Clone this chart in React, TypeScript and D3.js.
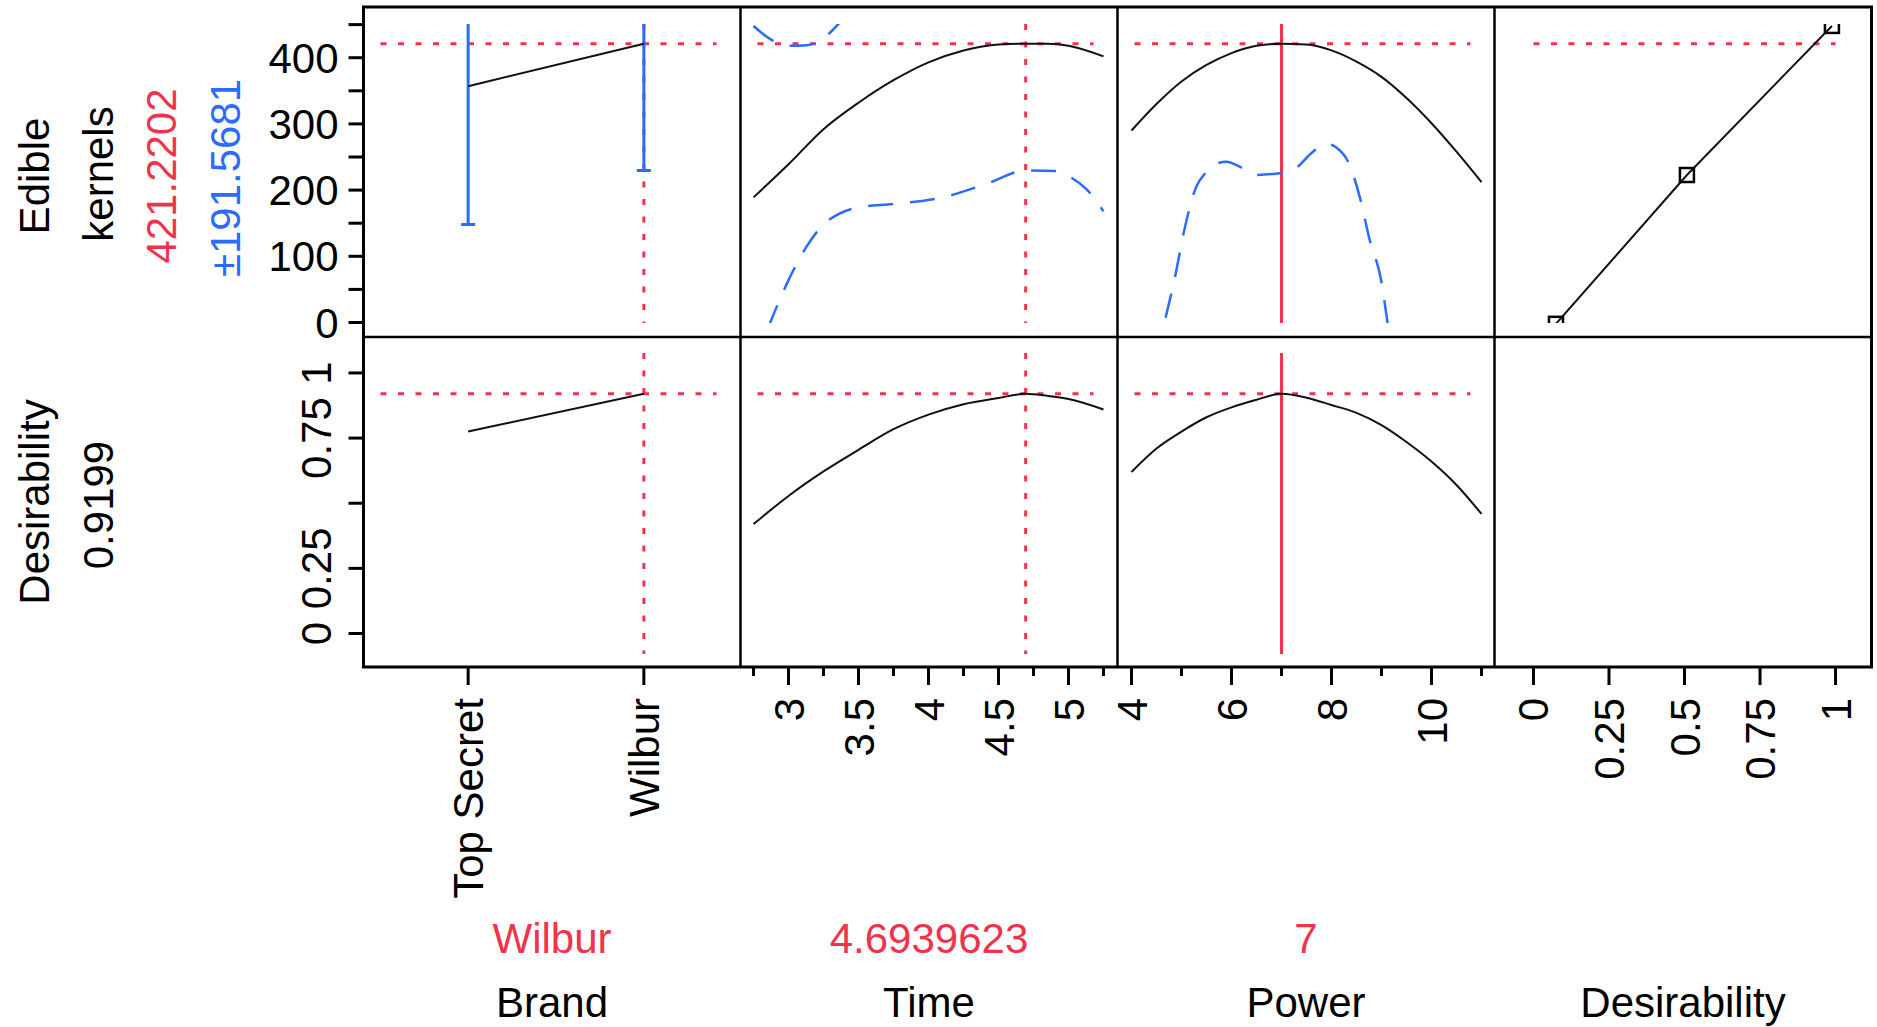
import React from "react";
import * as d3 from "d3";

const brandLevels = ["Top Secret", "Wilbur"];
const brandEdible = [357, 421.2202];
const brandHalfWidth = [209, 191.5681];
const brandDesir = [0.775, 0.9199];

const timeX = [2.75, 3.0, 3.25, 3.5, 3.75, 4.0, 4.25, 4.5, 4.694, 4.85, 5.0, 5.25];
const timeEdible = [189, 239, 292, 332, 366, 393, 411, 420, 421.2, 421, 418, 402];
const timeDesir = [0.42, 0.528, 0.622, 0.705, 0.784, 0.84, 0.88, 0.904, 0.9199, 0.912, 0.9, 0.86];
const timeBandX = [2.75, 2.87, 3.0, 3.13, 3.24, 3.36, 3.5, 3.75, 4.08, 4.41, 4.694, 4.91, 5.01, 5.13, 5.25];
const timeLower = [-69, 0, 64, 115, 146, 164, 174, 179, 188, 209, 229.6, 229, 220, 201, 168];
const timeUpper = [448, 428, 418, 419, 428, 452, 490, 553, 610, 628, 613, 613, 616, 625, 636];

const powerX = [4, 4.5, 5, 5.5, 6, 6.5, 7, 7.5, 8, 8.5, 9, 9.5, 10, 10.5, 11];
const powerEdible = [290, 330, 364, 389, 407, 418, 421.2, 420, 411, 394, 371, 339, 301, 258, 212];
const powerDesir = [0.62, 0.71, 0.775, 0.83, 0.868, 0.897, 0.9199, 0.905, 0.877, 0.847, 0.8, 0.735, 0.66, 0.57, 0.459];
const powerBandX = [4.5, 4.66, 4.86, 5.06, 5.3, 5.46, 5.7, 5.9, 6.2, 6.5, 7.0, 7.3, 7.6, 7.9, 8.1, 8.35, 8.56, 8.76, 9.0, 9.12, 9.3];
const powerLower = [-55, 0, 65, 141, 206, 224, 240, 243, 234, 223, 226, 234, 256, 270, 264, 240, 191, 126, 61, 0, -90];

// desirability function handles (desirability, edible kernels)
const handleDesir = [0.0745, 0.508, 0.988];
const handleEdible = [-2, 222.8, 448];

const currentBrand = "Wilbur";
const currentTime = 4.6939623;
const currentPower = 7;
const currentEdible = 421.2202;
const currentHalfWidth = 191.5681;
const currentDesir = 0.9199;

const edibleMajor = [0, 100, 200, 300, 400];
const edibleMinor = [50, 150, 250, 350, 450];
const desirTicks = [0, 0.25, 0.5, 0.75, 1];
const desirYLabels = ["0", "0.25", "", "0.75", "1"];
const desirXLabels = ["0", "0.25", "0.5", "0.75", "1"];
const timeMajor = [3, 3.5, 4, 4.5, 5];
const timeMinor = [2.75, 3.25, 3.75, 4.25, 4.75, 5.25];
const powerMajor = [4, 6, 8, 10];
const powerMinor = [5, 7, 9, 11];

const factorNames = ["Brand", "Time", "Power", "Desirability"];
const currentLabels = [currentBrand, String(currentTime), String(currentPower)];

const RED = "#f0334a";
const BLUE = "#2b6bff";
const FONT = "'Liberation Sans', Arial, sans-serif";

const L = 363.5;
const PW = 377;
const T = 7;
const PH = 330;
const colX = (i: number) => L + i * PW;

const App = () => {
  const xBrand = d3.scalePoint<string>().domain(brandLevels).range([colX(0) + 8, colX(1)]).padding(0.55);
  const xTime = d3.scaleLinear().domain([2.657, 5.35]).range([colX(1), colX(2)]);
  const xPower = d3.scaleLinear().domain([3.72, 11.26]).range([colX(2), colX(3)]);
  const xDes = d3.scaleLinear().domain([-0.129, 1.119]).range([colX(3), colX(4)]);
  const yEd = d3.scaleLinear().domain([-21.9, 476.6]).range([T + PH, T]);
  const yDe = d3.scaleLinear().domain([-0.1286, 1.138]).range([T + 2 * PH, T + PH]);

  const path = (xs: number[], ys: number[], sx: (v: number) => number, sy: (v: number) => number) =>
    d3
      .line<number>()
      .x((_, i) => sx(xs[i]))
      .y((d) => sy(d))
      .curve(d3.curveMonotoneX)(ys) || "";

  const clipTop = { y: T + 17, h: PH - 31 };
  const clipBot = { y: T + PH + 16, h: PH - 29 };
  const hInset = [17, 24];

  const dotted = { stroke: RED, strokeWidth: 3, strokeDasharray: "6 11.5", fill: "none" };
  const dashed = { stroke: BLUE, strokeWidth: 2.5, strokeDasharray: "25 17", fill: "none" };
  const curve = { stroke: "#111", strokeWidth: 2, fill: "none" };

  const wilburX = xBrand(currentBrand) as number;
  const bottom = T + 2 * PH;

  const xTicks: { x: number; major: boolean; label: string }[] = [
    ...brandLevels.map((b) => ({ x: xBrand(b) as number, major: true, label: b })),
    ...timeMajor.map((t) => ({ x: xTime(t), major: true, label: String(t) })),
    ...timeMinor.map((t) => ({ x: xTime(t), major: false, label: "" })),
    ...powerMajor.map((p) => ({ x: xPower(p), major: true, label: String(p) })),
    ...powerMinor.map((p) => ({ x: xPower(p), major: false, label: "" })),
    ...desirTicks.map((d, i) => ({ x: xDes(d), major: true, label: desirXLabels[i] })),
  ];

  return (
    <svg
      width={1877}
      height={1027}
      style={{ position: "absolute", left: 0, top: 0, background: "#fff" }}
      fontFamily={FONT}
    >
      <defs>
        <clipPath id="clipTop">
          <rect x={L} y={clipTop.y} width={4 * PW} height={clipTop.h} />
        </clipPath>
        <clipPath id="clipBot">
          <rect x={L} y={clipBot.y} width={4 * PW} height={clipBot.h} />
        </clipPath>
      </defs>

      {/* top row: Edible kernels */}
      <g clipPath="url(#clipTop)">
        {[0, 1, 2].map((i) => (
          <line
            key={i}
            x1={colX(i) + hInset[0]}
            x2={colX(i + 1) - hInset[1]}
            y1={yEd(currentEdible)}
            y2={yEd(currentEdible)}
            {...dotted}
          />
        ))}
        <line x1={xDes(0)} x2={xDes(1)} y1={yEd(currentEdible)} y2={yEd(currentEdible)} {...dotted} />
        <line x1={wilburX} x2={wilburX} y1={clipTop.y} y2={clipTop.y + clipTop.h} {...dotted} />
        <line x1={xTime(currentTime)} x2={xTime(currentTime)} y1={clipTop.y} y2={clipTop.y + clipTop.h} {...dotted} />
        <line
          x1={xPower(currentPower)}
          x2={xPower(currentPower)}
          y1={clipTop.y}
          y2={clipTop.y + clipTop.h}
          stroke={RED}
          strokeWidth={3}
        />

        {/* brand */}
        {brandLevels.map((b, i) => {
          const x = xBrand(b) as number;
          const lo = yEd(brandEdible[i] - brandHalfWidth[i]);
          const hi = yEd(brandEdible[i] + brandHalfWidth[i]);
          return (
            <g key={b} stroke={BLUE} strokeWidth={3}>
              <line x1={x} x2={x} y1={hi} y2={lo} />
              <line x1={x - 7} x2={x + 7} y1={lo} y2={lo} />
              <line x1={x - 7} x2={x + 7} y1={hi} y2={hi} />
            </g>
          );
        })}
        <line
          x1={xBrand(brandLevels[0])}
          x2={xBrand(brandLevels[1])}
          y1={yEd(brandEdible[0])}
          y2={yEd(brandEdible[1])}
          {...curve}
        />

        {/* time */}
        <path d={path(timeBandX, timeLower, xTime, yEd)} {...dashed} />
        <path d={path(timeBandX, timeUpper, xTime, yEd)} {...dashed} />
        <path d={path(timeX, timeEdible, xTime, yEd)} {...curve} />

        {/* power */}
        <path d={path(powerBandX, powerLower, xPower, yEd)} {...dashed} />
        <path d={path(powerX, powerEdible, xPower, yEd)} {...curve} />

        {/* desirability function */}
        <path
          d={d3.line<number>().x((_, i) => xDes(handleDesir[i])).y((d) => yEd(d))(handleEdible) || ""}
          {...curve}
        />
        {handleDesir.map((d, i) => (
          <rect
            key={i}
            x={xDes(d) - 7}
            y={yEd(handleEdible[i]) - 7}
            width={14}
            height={14}
            fill="none"
            stroke="#000"
            strokeWidth={2.5}
          />
        ))}
      </g>

      {/* bottom row: Desirability */}
      <g clipPath="url(#clipBot)">
        {[0, 1, 2].map((i) => (
          <line
            key={i}
            x1={colX(i) + hInset[0]}
            x2={colX(i + 1) - hInset[1]}
            y1={yDe(currentDesir)}
            y2={yDe(currentDesir)}
            {...dotted}
          />
        ))}
        <line x1={wilburX} x2={wilburX} y1={clipBot.y} y2={clipBot.y + clipBot.h} {...dotted} />
        <line x1={xTime(currentTime)} x2={xTime(currentTime)} y1={clipBot.y} y2={clipBot.y + clipBot.h} {...dotted} />
        <line
          x1={xPower(currentPower)}
          x2={xPower(currentPower)}
          y1={clipBot.y}
          y2={clipBot.y + clipBot.h}
          stroke={RED}
          strokeWidth={3}
        />
        <line
          x1={xBrand(brandLevels[0])}
          x2={xBrand(brandLevels[1])}
          y1={yDe(brandDesir[0])}
          y2={yDe(brandDesir[1])}
          {...curve}
        />
        <path d={path(timeX, timeDesir, xTime, yDe)} {...curve} />
        <path d={path(powerX, powerDesir, xPower, yDe)} {...curve} />
      </g>

      {/* frame */}
      <rect x={L} y={T} width={4 * PW} height={2 * PH} fill="none" stroke="#000" strokeWidth={3} />
      <line x1={L} x2={colX(4)} y1={T + PH} y2={T + PH} stroke="#000" strokeWidth={2.5} />
      {[1, 2, 3].map((i) => (
        <line key={i} x1={colX(i)} x2={colX(i)} y1={T} y2={bottom} stroke="#000" strokeWidth={2.5} />
      ))}

      {/* y axis, top */}
      {[...edibleMajor, ...edibleMinor].map((v) => (
        <line key={v} x1={L - 15} x2={L} y1={yEd(v)} y2={yEd(v)} stroke="#000" strokeWidth={3} />
      ))}
      {edibleMajor.map((v) => (
        <text key={v} x={L - 25} y={yEd(v) + 15} textAnchor="end" fontSize={42}>
          {v}
        </text>
      ))}

      {/* y axis, bottom */}
      {desirTicks.map((v, i) => (
        <g key={v}>
          <line x1={L - 15} x2={L} y1={yDe(v)} y2={yDe(v)} stroke="#000" strokeWidth={3} />
          <text transform={`translate(${L - 33},${yDe(v)}) rotate(-90)`} textAnchor="middle" fontSize={42}>
            {desirYLabels[i]}
          </text>
        </g>
      ))}

      {/* x axes */}
      {xTicks.map((t, i) => (
        <g key={i}>
          <line x1={t.x} x2={t.x} y1={bottom} y2={bottom + (t.major ? 18 : 9)} stroke="#000" strokeWidth={3} />
          {t.label && (
            <text transform={`translate(${t.x + 15},${bottom + 31}) rotate(-90)`} textAnchor="end" fontSize={42}>
              {t.label}
            </text>
          )}
        </g>
      ))}

      {/* response labels */}
      <g fontSize={42} textAnchor="middle">
        <text transform="translate(49,176) rotate(-90)">Edible</text>
        <text transform="translate(113,174) rotate(-90)">kernels</text>
        <text transform="translate(176,176) rotate(-90)" fill={RED}>
          {currentEdible}
        </text>
        <text transform="translate(240,178) rotate(-90)" fill={BLUE}>
          {"\u00b1" + currentHalfWidth}
        </text>
        <text transform="translate(49,502) rotate(-90)">Desirability</text>
        <text transform="translate(113,505) rotate(-90)">{currentDesir}</text>
      </g>

      {/* factor labels */}
      <g fontSize={42} textAnchor="middle">
        {currentLabels.map((s, i) => (
          <text key={s} x={colX(i) + PW / 2} y={953} fill={RED}>
            {s}
          </text>
        ))}
        {factorNames.map((s, i) => (
          <text key={s} x={colX(i) + PW / 2} y={1017}>
            {s}
          </text>
        ))}
      </g>
    </svg>
  );
};

export default App;
